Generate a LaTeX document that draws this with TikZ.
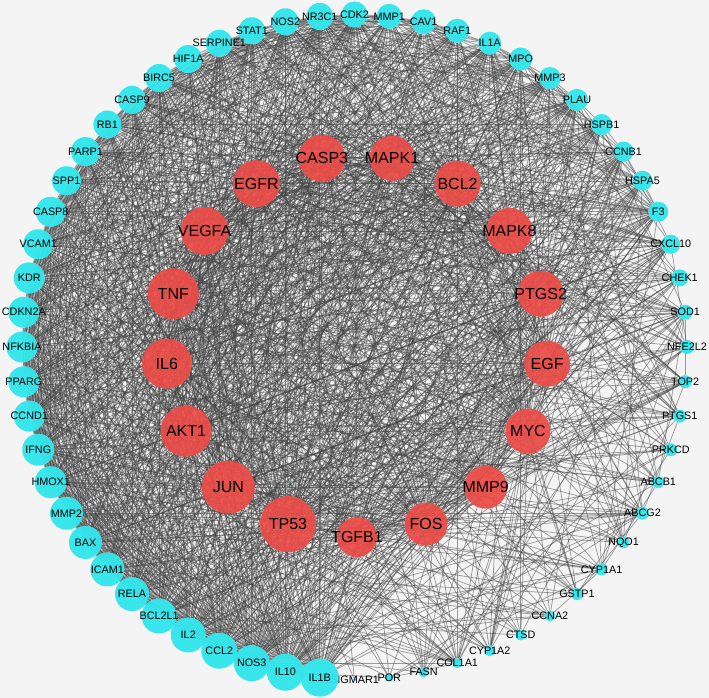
\documentclass[tikz,border=0pt]{standalone}
\usepackage{fontspec}
\setmainfont{Liberation Sans}
\definecolor{bgc}{HTML}{F4F4F4}
\definecolor{hubred}{HTML}{EB4B46}
\definecolor{ringcyan}{HTML}{30E6EC}
\definecolor{edgegray}{HTML}{444444}
\pgfdeclarelayer{bg}
\pgfdeclarelayer{edges}
\pgfsetlayers{bg,edges,main}
\begin{document}
\begin{tikzpicture}[x=1pt,y=1pt,
 hubnode/.style={circle,fill=hubred,fill opacity=0.92,inner sep=0pt,outer sep=0pt},
 ringnode/.style={circle,fill=ringcyan,fill opacity=0.95,inner sep=0pt,outer sep=0pt},
 hublabel/.style={font=\fontsize{16}{18}\selectfont,text=black,inner sep=0pt,text opacity=1},
 ringlabel/.style={font=\fontsize{10.8}{12}\selectfont,text=black,inner sep=0pt,text opacity=1},
 edge/.style={draw=edgegray,draw opacity=0.5,line width=0.75pt}]
\begin{pgfonlayer}{bg}
\fill[bgc] (0,0) rectangle (709,698);
\end{pgfonlayer}
\useasboundingbox (0,0) rectangle (709,698);
% outer ring (drawn last-to-first so that IL1B is on top)
\foreach \i/\nm/\d in {59/SIGMAR1/3,58/POR/8,57/FASN/10,56/COL1A1/10,55/CYP1A2/11,54/CTSD/11,53/CCNA2/11,52/GSTP1/12,51/CYP1A1/12,50/NQO1/12,
 49/ABCG2/13,48/ABCB1/12,47/PRKCD/13,46/PTGS1/13,45/TOP2/13,44/NFE2L2/14,43/SOD1/15,42/CHEK1/17,41/CXCL10/19,40/F3/20,
 39/HSPA5/20,38/CCNB1/20,37/HSPB1/21,36/PLAU/22,35/MMP3/22,34/MPO/23,33/IL1A/23,32/RAF1/24,31/CAV1/25,30/MMP1/25,
 29/CDK2/26,28/NR3C1/27,27/NOS2/27,26/STAT1/27,25/SERPINE1/27,24/HIF1A/28,23/BIRC5/28,22/CASP9/28,21/RB1/28,20/PARP1/29,
 19/SPP1/29,18/CASP8/30,17/VCAM1/30,16/KDR/31,15/CDKN2A/31,14/NFKBIA/31,13/PPARG/31,12/CCND1/31,11/IFNG/32,10/HMOX1/32,
 9/MMP2/33,8/BAX/33,7/ICAM1/34,6/RELA/34,5/BCL2L1/35,4/IL2/35,3/CCL2/36,2/NOS3/36,1/IL10/37,0/IL1B/38}{
  \pgfmathsetmacro\a{264-6*\i}
  \pgfmathtruncatemacro\g{17+\i}
  \path (354.5,351) ++(\a:332.5) node[ringnode,minimum size=\d pt,alias=v\g,label={[ringlabel]center:\nm}] (\nm) {};
}
% inner ring of hubs
\foreach \k/\nm/\d in {0/CASP3/47,1/MAPK1/45,2/BCL2/46,3/MAPK8/46,4/PTGS2/46,5/EGF/46,6/MYC/45,7/MMP9/43,8/FOS/43,
 9/TGFB1/40,10/TP53/56,11/JUN/53,12/AKT1/51,13/IL6/50,14/TNF/51,15/VEGFA/48,16/EGFR/47}{
  \pgfmathsetmacro\a{100.588-21.17647*\k}
  \path (357,352) ++(\a:191) node[hubnode,minimum size=\d pt,alias=v\k,label={[hublabel]center:\nm}] (\nm) {};
}
% edges
\def\degs{{63,61,62,62,62,62,61,58,58,54,76,72,69,68,69,65,63,
49.5,48,46.5,46.5,45,45,43.5,43.5,42,42,40.5,40.5,39,39,39,39,39,37.5,37.5,36,
36,34.5,34.5,34.5,34.5,33,33,33,33,31.5,30,30,28.5,27,27,25.5,25.5,24,22.5,22.5,
22.5,21,18,15,13.5,12,12,12,10.5,12,10.5,10.5,10.5,9,9,9,7.5,7.5,4.5,2}}
\pgfmathsetseed{7}
\begin{pgfonlayer}{edges}
\foreach \i in {0,...,75}{
  \pgfmathtruncatemacro\s{\i+1}
  \foreach \j in {\s,...,76}{
    \pgfmathsetmacro\p{\degs[\i]*\degs[\j]/1700}
    \pgfmathsetmacro\r{rnd}
    \ifdim\r pt<\p pt\relax
      \draw[edge] (v\i) -- (v\j);
    \fi
  }
}
\end{pgfonlayer}
\end{tikzpicture}
\end{document}
